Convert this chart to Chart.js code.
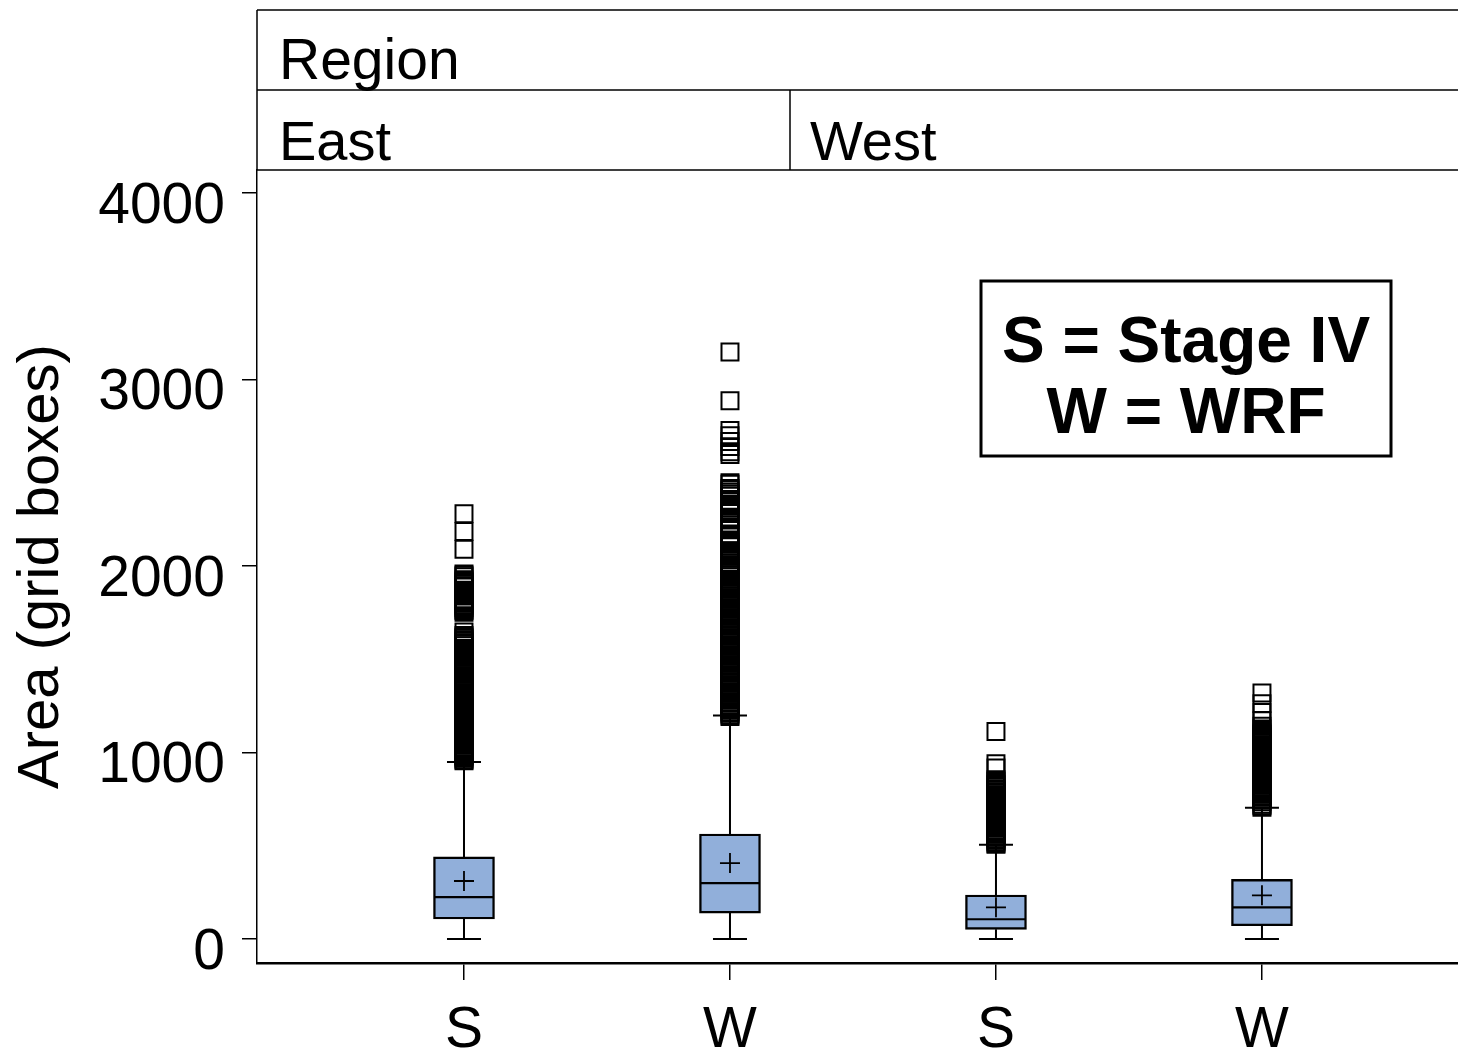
<!DOCTYPE html>
<html>
<head>
<meta charset="utf-8">
<title>Area by Region</title>
<script src="https://cdn.jsdelivr.net/npm/chart.js@4.4.1/dist/chart.umd.min.js"></script>
<style>
  html, body { margin: 0; padding: 0; background: #ffffff; }
  #chartWrap { width: 1458px; height: 1052px; }
</style>
</head>
<body>
<div id="chartWrap"><canvas id="areaChart" width="1458" height="1052"></canvas></div>
<script>
const panelTitle = "Region";
const regions = ["East", "West"];
const groups = ["S", "W", "S", "W"];
const legendLines = ["S = Stage IV", "W = WRF"];
const yTicks = [0, 1000, 2000, 3000, 4000];
const yTitle = "Area (grid boxes)";

// box statistics, one entry per group (East S, East W, West S, West W)
const whiskerLow = [0, 0, 0, 0];
const q1Values = [107, 139, 52, 71];
const medianValues = [225, 300, 106, 170];
const q3Values = [440, 563, 236, 320];
const whiskerHigh = [949, 1198, 506, 704];
const meanValues = [311, 407, 170, 234];

const outliersEastS = [
  2280, 2185, 2090,
  1957, 1950, 1942, 1926, 1918, 1911, 1902, 1894, 1887, 1870, 1862, 1855, 1847, 1839,
  1824, 1816, 1809, 1800, 1792, 1785, 1777, 1768, 1761, 1752,
  1646, 1628, 1620, 1613, 1604, 1596, 1589, 1580, 1573, 1558, 1550, 1543, 1534, 1526,
  1519, 1510, 1502, 1495, 1487, 1472, 1464, 1457, 1448, 1441, 1433, 1425, 1419, 1406,
  1398, 1391, 1382, 1374, 1367, 1359, 1350, 1343, 1335, 1328, 1320, 1311, 1304, 1296,
  1289, 1280, 1273, 1265, 1257, 1250, 1241, 1234, 1226, 1219, 1211, 1203, 1195, 1188,
  1179, 1172, 1164, 1156, 1149, 1140, 1133, 1125, 1117, 1110, 1101, 1094, 1086, 1079,
  1070, 1062, 1055, 1047, 1039, 1031, 1024, 1016, 1008, 1000, 993, 984, 977, 969, 961, 955
];
const outliersEastW = [
  3147, 2886, 2727, 2698, 2668, 2640, 2612, 2598,
  2447, 2438, 2416, 2407, 2396, 2385, 2374, 2352, 2343, 2330, 2312, 2302, 2292, 2282,
  2259, 2250, 2230, 2204, 2194, 2172, 2156, 2136, 2126, 2116, 2106, 2082, 2072, 2062,
  2052, 2042, 2016, 2006, 1997, 1989, 1979, 1971, 1961, 1952, 1942, 1929, 1920, 1912,
  1902, 1894, 1884, 1876, 1866, 1858, 1848, 1840, 1830, 1822, 1812, 1804, 1794, 1786,
  1776, 1768, 1758, 1750, 1740, 1732, 1722, 1714, 1704, 1696, 1686, 1678, 1668, 1660,
  1650, 1642, 1632, 1624, 1614, 1606, 1596, 1588, 1578, 1570, 1560, 1552, 1542, 1534,
  1524, 1516, 1506, 1498, 1488, 1480, 1470, 1462, 1452, 1444, 1434, 1426, 1416, 1408,
  1398, 1390, 1380, 1372, 1362, 1354, 1344, 1336, 1326, 1318, 1308, 1300, 1290, 1282,
  1272, 1264, 1254, 1246, 1236, 1228, 1218, 1210, 1201, 1193
];
const outliersWestS = [
  1112, 940, 917,
  854, 846, 839, 830, 822, 814, 805, 797, 790, 781, 773, 766, 757, 749, 741, 732, 724,
  717, 708, 700, 693, 684, 676, 668, 659, 651, 644, 635, 627, 619, 610, 602, 595, 586,
  578, 571, 562, 554, 546, 537, 529, 522, 513, 508
];
const outliersWestW = [
  1319, 1262, 1214, 1170, 1141, 1126, 1112, 1104, 1097, 1088, 1080, 1073, 1064, 1056,
  1049, 1040, 1032, 1025, 1016, 1008, 1001, 992, 984, 977, 968, 960, 953, 944, 936,
  929, 920, 912, 905, 896, 888, 881, 872, 864, 857, 848, 840, 833, 824, 816, 809, 800,
  792, 785, 776, 768, 761, 752, 745, 736, 722, 714, 707
];
const outlierGroups = [outliersEastS, outliersEastW, outliersWestS, outliersWestW];

const FONT = "'Liberation Sans', Arial, Helvetica, sans-serif";
const BOX_FILL = "#91AFDA";
const BOX_WIDTH = 61;
const CAP_WIDTH = 34;
const HEADER_TOP = 10;
const HEADER_ROW = 80;
const PANEL_SPLIT_X = 790;

Chart.defaults.font.family = FONT;
Chart.defaults.color = "#000";

function groupX(index) {
  return index + 1;
}

const boxDetailsPlugin = {
  id: "boxDetails",
  beforeDatasetsDraw(chart) {
    const { ctx } = chart;
    const x = chart.scales.x;
    const y = chart.scales.y;
    ctx.save();
    ctx.strokeStyle = "#000";
    ctx.lineWidth = 2;
    groups.forEach((g, i) => {
      const px = x.getPixelForValue(groupX(i));
      const half = CAP_WIDTH / 2;
      const lo = y.getPixelForValue(whiskerLow[i]);
      const hi = y.getPixelForValue(whiskerHigh[i]);
      ctx.beginPath();
      ctx.moveTo(px, y.getPixelForValue(q3Values[i]));
      ctx.lineTo(px, hi);
      ctx.moveTo(px, y.getPixelForValue(q1Values[i]));
      ctx.lineTo(px, lo);
      ctx.moveTo(px - half, hi);
      ctx.lineTo(px + half, hi);
      ctx.moveTo(px - half, lo);
      ctx.lineTo(px + half, lo);
      ctx.stroke();
    });
    ctx.restore();
  },
  afterDatasetsDraw(chart) {
    const { ctx } = chart;
    const x = chart.scales.x;
    const y = chart.scales.y;
    ctx.save();
    ctx.strokeStyle = "#000";
    groups.forEach((g, i) => {
      const px = x.getPixelForValue(groupX(i));
      const med = y.getPixelForValue(medianValues[i]);
      const mean = y.getPixelForValue(meanValues[i]);
      ctx.lineWidth = 2.2;
      ctx.beginPath();
      ctx.moveTo(px - BOX_WIDTH / 2 + 1, med);
      ctx.lineTo(px + BOX_WIDTH / 2 - 1, med);
      ctx.stroke();
      ctx.lineWidth = 1.8;
      ctx.beginPath();
      ctx.moveTo(px - 10, mean);
      ctx.lineTo(px + 10, mean);
      ctx.moveTo(px, mean - 10);
      ctx.lineTo(px, mean + 10);
      ctx.stroke();
    });
    ctx.restore();
  }
};

const panelHeaderPlugin = {
  id: "panelHeader",
  afterDraw(chart) {
    const { ctx, chartArea } = chart;
    const left = chartArea.left;
    const right = chart.width;
    const rowTop = HEADER_TOP + HEADER_ROW;
    ctx.save();
    ctx.strokeStyle = "#000";
    ctx.lineWidth = 1.5;
    ctx.beginPath();
    ctx.moveTo(left, HEADER_TOP);
    ctx.lineTo(right, HEADER_TOP);
    ctx.moveTo(left, rowTop);
    ctx.lineTo(right, rowTop);
    ctx.moveTo(left, chartArea.top);
    ctx.lineTo(right, chartArea.top);
    ctx.moveTo(left, HEADER_TOP);
    ctx.lineTo(left, chartArea.top);
    ctx.moveTo(PANEL_SPLIT_X, rowTop);
    ctx.lineTo(PANEL_SPLIT_X, chartArea.top);
    ctx.stroke();

    ctx.fillStyle = "#000";
    ctx.textAlign = "left";
    ctx.textBaseline = "alphabetic";
    ctx.font = `57px ${FONT}`;
    ctx.fillText(panelTitle, left + 22, HEADER_TOP + 69);
    ctx.font = `56px ${FONT}`;
    ctx.fillText(regions[0], left + 22, rowTop + 70);
    ctx.fillText(regions[1], PANEL_SPLIT_X + 20, rowTop + 70);
    ctx.restore();
  }
};

const legendBoxPlugin = {
  id: "legendBox",
  afterDraw(chart) {
    const { ctx } = chart;
    ctx.save();
    ctx.strokeStyle = "#000";
    ctx.lineWidth = 3;
    ctx.strokeRect(981, 281, 410, 175);
    ctx.fillStyle = "#000";
    ctx.textAlign = "center";
    ctx.textBaseline = "alphabetic";
    ctx.font = `bold 64px ${FONT}`;
    ctx.fillText(legendLines[0], 1186, 362);
    ctx.fillText(legendLines[1], 1186, 433);
    ctx.restore();
  }
};

function buildDatasets() {
  const boxes = {
    type: "bar",
    data: groups.map((g, i) => ({ x: groupX(i), y: [q1Values[i], q3Values[i]] })),
    backgroundColor: BOX_FILL,
    borderColor: "#000",
    borderWidth: 2.4,
    borderSkipped: false,
    barThickness: BOX_WIDTH,
    order: 2
  };

  const points = outlierGroups.map((list, i) => ({
    type: "scatter",
    data: list.map((v) => ({ x: groupX(i), y: v })),
    pointStyle: "rect",
    pointRadius: 12,
    pointBorderWidth: 2,
    pointBorderColor: "#000",
    pointBackgroundColor: "rgba(0,0,0,0)",
    showLine: false,
    order: 1
  }));

  return [boxes, ...points];
}

function buildChart() {
  const canvas = document.getElementById("areaChart");
  if (!canvas || typeof Chart === "undefined") return;

  new Chart(canvas, {
    type: "bar",
    data: { datasets: buildDatasets() },
    options: {
      responsive: false,
      animation: false,
      layout: { autoPadding: false, padding: { top: 170, left: 0, right: 0, bottom: 0 } },
      plugins: {
        legend: { display: false },
        tooltip: { enabled: false }
      },
      scales: {
        x: {
          type: "linear",
          min: 0.2218,
          max: 4.737,
          offset: false,
          afterFit: (scale) => {
            scale.height = 89;
            scale.paddingLeft = 0;
            scale.paddingRight = 0;
          },
          afterBuildTicks: (scale) => {
            scale.ticks = groups.map((g, i) => ({ value: groupX(i) }));
          },
          ticks: {
            autoSkip: false,
            maxRotation: 0,
            padding: 17,
            color: "#000",
            font: { size: 57 },
            callback: (value) => groups[Math.round(value) - 1] || ""
          },
          grid: {
            offset: false,
            drawOnChartArea: false,
            tickLength: 17,
            color: "#000",
            lineWidth: 1.5
          },
          border: { display: true, color: "#000", width: 2.5 }
        },
        y: {
          type: "linear",
          min: -128.7,
          max: 4123.3,
          afterFit: (scale) => {
            scale.width = 257;
          },
          afterBuildTicks: (scale) => {
            scale.ticks = yTicks.map((v) => ({ value: v }));
          },
          ticks: {
            padding: 17,
            labelOffset: 14,
            color: "#000",
            font: { size: 57 },
            callback: (value) => String(value)
          },
          grid: {
            drawOnChartArea: false,
            tickLength: 15,
            color: "#000",
            lineWidth: 1.5
          },
          border: { display: true, color: "#000", width: 1.5 },
          title: {
            display: true,
            text: yTitle,
            color: "#000",
            font: { size: 58 },
            padding: { top: 7, bottom: 0 }
          }
        }
      }
    },
    plugins: [boxDetailsPlugin, panelHeaderPlugin, legendBoxPlugin]
  });
}

document.addEventListener("DOMContentLoaded", buildChart);
</script>
</body>
</html>
